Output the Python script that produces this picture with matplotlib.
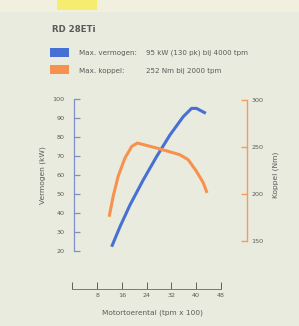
import numpy as np
import matplotlib.pyplot as plt
from matplotlib.patches import Rectangle

# data
rpm_power = [12.7, 15.4, 18.6, 22.9, 27.2, 31.5, 35.8, 38.5, 40.1, 43.1]
power_kw = [22.1, 32.7, 44.1, 57.4, 69.7, 81.1, 90.8, 95.2, 95.2, 92.6]
rpm_torque = [11.9, 13.2, 14.8, 17.0, 19.2, 21.0, 27.2, 34.7, 37.4, 40.1, 42.3, 43.5]
torque_nm = [175.8, 197.6, 218.8, 238.3, 250.6, 254.2, 248.9, 241.8, 236.5, 224, 211.8, 201.2]
x_ticks = [0, 8, 16, 24, 32, 40, 48]
x_labels = ["", "8", "16", "24", "32", "40", "48"]
kw_ticks = [20, 30, 40, 50, 60, 70, 80, 90, 100]
nm_ticks = [150, 200, 250, 300]

blue = "#4670d4"
orange = "#f7924e"
txt = "#5a5a58"
bg = "#e9ebdf"

W, H = 299, 326
fig = plt.figure(figsize=(W / 100, H / 100), dpi=100)
fig.patch.set_facecolor(bg)

# top strip of the scanned page and the yellow highlight
fig.patches.append(Rectangle((0, 1 - 12 / H), 1, 12 / H, transform=fig.transFigure,
                             facecolor="#f1f0df", edgecolor="none"))
fig.patches.append(Rectangle((57 / W, 1 - 10 / H), 40 / W, 10 / H, transform=fig.transFigure,
                             facecolor="#f5ec70", edgecolor="none"))

def fx(px):
    return px / W

def fy(py):
    return 1 - py / H

# title and legend block
fig.text(fx(52), fy(30), "RD 28ETi", fontsize=6.2, fontweight="bold", color=txt, va="center")
fig.patches.append(Rectangle((fx(50), fy(57)), 19 / W, 9 / H, transform=fig.transFigure,
                             facecolor=blue, edgecolor="none"))
fig.patches.append(Rectangle((fx(50), fy(74)), 19 / W, 9 / H, transform=fig.transFigure,
                             facecolor=orange, edgecolor="none"))
fig.text(fx(79), fy(53), "Max. vermogen:", fontsize=5.1, color=txt, va="center")
fig.text(fx(146), fy(53), "95 kW (130 pk) bij 4000 tpm", fontsize=5.1, color=txt, va="center")
fig.text(fx(79), fy(70.5), "Max. koppel:", fontsize=5.1, color=txt, va="center")
fig.text(fx(146), fy(70.5), "252 Nm bij 2000 tpm", fontsize=5.1, color=txt, va="center")

# main axes: x 0..48 spans px 72.3..221, y 100..20 spans px 99.3..250.7
x0, x1, y0, y1 = 72.3, 221, 99.3, 250.7
ax = fig.add_axes([fx(x0), fy(y1), (x1 - x0) / W, (y1 - y0) / H])
ax.set_facecolor("none")
ax.set_xlim(0, 48)
ax.set_ylim(20, 100)

ax.plot(rpm_power, power_kw, color=blue, lw=2.2, solid_capstyle="butt", zorder=3)

for s in ["top", "right"]:
    ax.spines[s].set_visible(False)
ax.spines["left"].set_color("#7f8fcc")
ax.spines["left"].set_linewidth(0.9)
ax.spines["left"].set_position(("data", 0.45))
ax.spines["left"].set_bounds(20, 100)
ax.spines["bottom"].set_position(("axes", -(289.3 - y1) / (y1 - y0)))
ax.spines["bottom"].set_color("#7a7a74")
ax.spines["bottom"].set_linewidth(0.7)

ax.set_yticks(kw_ticks)
ax.set_yticklabels([str(v) for v in kw_ticks])
ax.tick_params(axis="y", direction="in", length=4, width=0.9, color="#7f8fcc",
               labelsize=4.6, labelcolor=txt, pad=6.5)
ax.set_xticks(x_ticks)
ax.set_xticklabels(x_labels)
ax.tick_params(axis="x", direction="in", length=5, width=0.7, color="#5e5e5a",
               labelsize=4.6, labelcolor=txt, pad=3)
ax.set_ylabel("Vermogen (kW)", fontsize=5.4, color=txt, labelpad=5)
ax.set_xlabel("Motortoerental (tpm x 100)", fontsize=5.3, color=txt)
ax.xaxis.set_label_coords((152.5 - x0) / (x1 - x0), -(312.5 - y1) / (y1 - y0))
ax.xaxis.label.set_va("center")

# torque axis on the right
ax2 = ax.twinx()
ax2.set_ylim(139.7, 300.7)
ax2.plot(rpm_torque, torque_nm, color=orange, lw=2.2, solid_capstyle="butt", zorder=2)
for s in ["top", "left", "bottom"]:
    ax2.spines[s].set_visible(False)
ax2.spines["right"].set_position(("axes", (246.7 - x0) / (x1 - x0)))
ax2.spines["right"].set_bounds(150, 300)
ax2.spines["right"].set_color("#f79a5c")
ax2.spines["right"].set_linewidth(1.0)
ax2.set_yticks(nm_ticks)
ax2.set_yticklabels([str(v) for v in nm_ticks])
ax2.tick_params(axis="y", direction="in", length=4, width=1.0, color="#f79a5c",
                labelsize=4.6, labelcolor=txt, pad=3.5)
ax2.set_ylabel("Koppel (Nm)", fontsize=5.4, color=txt, rotation=90, labelpad=6)

fig.savefig("out.png", dpi=100, facecolor=fig.get_facecolor())
